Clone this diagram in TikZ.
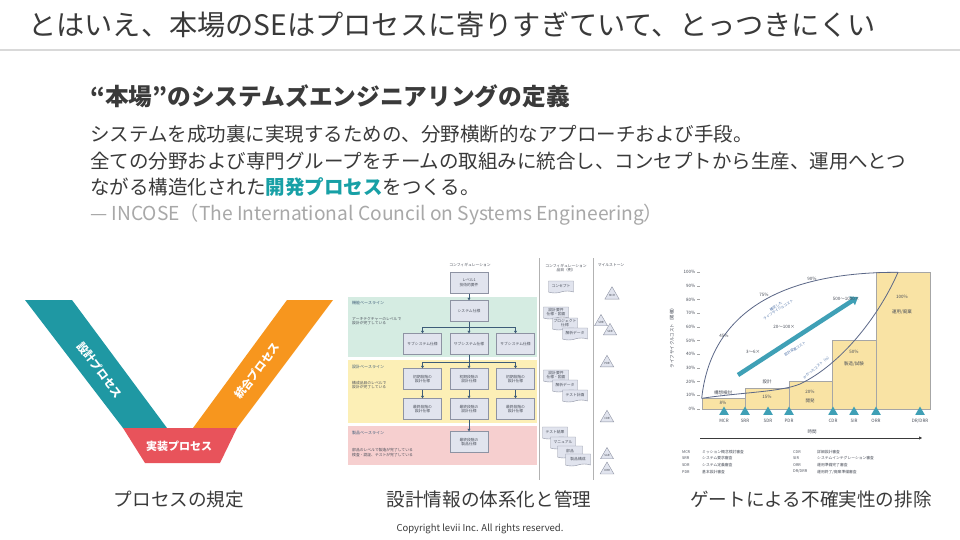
\documentclass[tikz,border=0pt]{standalone}
\usepackage{fontspec}
\setmainfont{Noto Sans CJK JP}
\usetikzlibrary{positioning,arrows.meta,shapes.geometric,shapes.symbols}
\definecolor{ink}{HTML}{3A3A3A}
\definecolor{inkgray}{HTML}{4A4F5A}
\definecolor{quote}{HTML}{A8A8A8}
\definecolor{rule}{HTML}{D9D9D9}
\definecolor{hilite}{HTML}{17A0A6}
\definecolor{vteal}{HTML}{1F98A3}
\definecolor{vorange}{HTML}{F7961E}
\definecolor{vred}{HTML}{E8535B}
\definecolor{bandgreen}{HTML}{D5ECE2}
\definecolor{bandyellow}{HTML}{FCEFB6}
\definecolor{bandpink}{HTML}{F6CFCF}
\definecolor{specfill}{HTML}{E1E4EE}
\definecolor{specline}{HTML}{8E93A3}
\definecolor{flowline}{HTML}{3D5C78}
\definecolor{barfill}{HTML}{F9E3A4}
\definecolor{gateteal}{HTML}{3FA0B6}
\definecolor{curveblue}{HTML}{5B6787}
\definecolor{noteblue}{HTML}{4E72A8}
\newcommand{\tinyjp}{\fontsize{3.8}{4.6}\selectfont}

\begin{document}
\begin{tikzpicture}[x=1pt,y=-1pt,
    every node/.style={inner sep=0pt},
    tinytext/.style={font=\tinyjp,text=inkgray},
    spec/.style={draw=specline,fill=specfill,line width=0.4pt,
      minimum width=38pt,minimum height=21pt,align=center,tinytext},
    doc/.style={tape,tape bend top=none,tape bend height=2pt,draw=specline,
      fill=specfill,line width=0.4pt,minimum width=25pt,minimum height=12pt,
      align=center,tinytext},
    milestone/.style={regular polygon,regular polygon sides=3,draw=specline,
      fill=specfill,line width=0.4pt,minimum size=15pt,
      font=\fontsize{2.8}{3}\selectfont,text=inkgray},
    flow/.style={draw=flowline,line width=0.6pt,
      -{Triangle[width=3pt,length=2.5pt]}},
    bandlabel/.style={anchor=west,font=\fontsize{4}{5}\selectfont,text=flowline},
    bandnote/.style={anchor=north west,align=left,tinytext},
    bar/.style={draw=gray!70,fill=barfill,line width=0.5pt},
    gate/.style={regular polygon,regular polygon sides=3,fill=gateteal,
      minimum size=11pt},
    chartlab/.style={font=\fontsize{4.5}{5.2}\selectfont,text=inkgray},
    note/.style={font=\fontsize{3.5}{4.2}\selectfont,text=noteblue,align=center},
    caption/.style={font=\fontsize{18.6}{20}\selectfont,text=ink,anchor=base},
    body/.style={anchor=base west,font=\fontsize{19.5}{22}\selectfont,text=ink}]
  \useasboundingbox (0,0) rectangle (960,540);
  \fill[white] (0,0) rectangle (960,540);

  % title
  \node[anchor=base west,font=\fontsize{28.2}{30}\selectfont,text=ink] (title) at (28,36)
    {とはいえ、本場のSEはプロセスに寄りすぎていて、とっつきにくい};
  \draw[rule,line width=2.5pt] (0,50) -- (960,50);

  % definition
  \node[anchor=base west,font=\fontsize{23.7}{25}\selectfont\bfseries,text=ink] (defhead) at (90,106)
    {“本場”のシステムズエンジニアリングの定義};
  \node[body] (defA) at (90,142) {システムを成功裏に実現するための、分野横断的なアプローチおよび手段。};
  \node[body] (defB) at (90,168) {全ての分野および専門グループをチームの取組みに統合し、コンセプトから生産、運用へとつ};
  \node[body] (defC) at (90,194) {ながる構造化された{\bfseries\color{hilite}開発プロセス}をつくる。};
  \node[body,text=quote,font=\fontsize{19.2}{21}\selectfont] (defsrc) at (90,220)
    {— INCOSE（The International Council on Systems Engineering）};

  % V model
  \fill[vteal] (25,300) -- (72,300) -- (167,428) -- (123,428) -- cycle;
  \fill[vorange] (287,300) -- (333,300) -- (237,428) -- (193,428) -- cycle;
  \fill[vred] (123,428) -- (237,428) -- (220,463) -- (145,463) -- cycle;
  \node[font=\fontsize{11}{12}\selectfont\bfseries,text=white,rotate=-53] (vdesign) at (100,370) {設計プロセス};
  \node[font=\fontsize{11}{12}\selectfont\bfseries,text=white,rotate=53] (vinteg) at (257,371) {統合プロセス};
  \node[font=\fontsize{11}{12}\selectfont\bfseries,text=white] (vimpl) at (179,446) {実装プロセス};

  % configuration diagram
  \fill[bandgreen] (348,297) rectangle (537,357);
  \fill[bandyellow] (348,360) rectangle (537,423);
  \fill[bandpink] (348,426) rectangle (537,465);
  \draw[gray!60,line width=0.7pt] (539,258) -- (539,480);
  \draw[gray!60,line width=0.7pt] (593,258) -- (593,480);
  \node[tinytext] (hdcfg) at (470,265) {コンフィギュレーション};
  \node[tinytext,align=center] (hditem) at (566,268) {コンフィギュレーション\\品目（例）};
  \node[tinytext] (hdmile) at (611,265) {マイルストーン};

  \node[bandlabel] (blfunc) at (352,303) {機能ベースライン};
  \node[bandnote] (bnfunc) at (352,317) {アーキテクチャーのレベルで\\設計が完了している};
  \node[bandlabel] (bldes) at (352,367) {設計ベースライン};
  \node[bandnote] (bndes) at (352,381) {構成品目のレベルで\\設計が完了している};
  \node[bandlabel] (blprod) at (352,433) {製品ベースライン};
  \node[bandnote] (bnprod) at (352,448) {部品のレベルで製造が完了している\\検査・認証、テストが完了している};

  \node[spec] (lvl) at (469,283) {レベル1\\技術的要件};
  \node[spec] (sys) at (469,311) {システム仕様};
  \node[spec] (subA) at (422.5,344) {サブシステム仕様};
  \node[spec] (subB) at (469,344) {サブシステム仕様};
  \node[spec] (subC) at (515.5,344) {サブシステム仕様};
  \node[spec] (iniA) at (422.5,379) {初期段階の\\設計仕様};
  \node[spec] (iniB) at (469,379) {初期段階の\\設計仕様};
  \node[spec] (iniC) at (515.5,379) {初期段階の\\設計仕様};
  \node[spec] (finA) at (422.5,409) {最終段階の\\設計仕様};
  \node[spec] (finB) at (469,409) {最終段階の\\設計仕様};
  \node[spec] (finC) at (515.5,409) {最終段階の\\設計仕様};
  \node[spec] (prod) at (469,442) {最終段階の\\製品仕様};

  \coordinate (forkA) at (469,327);
  \coordinate (forkB) at (469,362);
  \draw[flow] (lvl) -- (sys);
  \draw[draw=flowline,line width=0.6pt] (sys) -- (forkA);
  \draw[flow] (forkA) -| (subA);
  \draw[flow] (forkA) -- (subB);
  \draw[flow] (forkA) -| (subC);
  \draw[draw=flowline,line width=0.6pt] (subB) -- (forkB);
  \draw[flow] (forkB) -| (iniA);
  \draw[flow] (forkB) -- (iniB);
  \draw[flow] (forkB) -| (iniC);
  \foreach \c in {A,B,C}
    \draw[flow] (ini\c) -- (fin\c);
  \draw[flow] (finB) -- (prod);

  % configuration items
  \node[doc] (dConcept) at (561,286) {コンセプト};
  \node[doc] (dReqA) at (556,312) {設計要件\\仕様・図面};
  \node[doc] (dProj) at (565,323) {プロジェクト\\仕様};
  \node[doc] (dAnaA) at (575,333) {解析データ};
  \node[doc] (dReqB) at (556,375) {設計要件\\仕様・図面};
  \node[doc] (dAnaB) at (565,385) {解析データ};
  \node[doc] (dTest) at (575,395) {テスト計画};
  \node[doc] (dResult) at (555,432) {テスト結果};
  \node[doc] (dManual) at (563,442) {マニュアル};
  \node[doc] (dParts) at (570,451) {部品};
  \node[doc] (dConf) at (578,459) {製品構成};

  % milestones
  \node[milestone] (mMCR) at (612,295) {MCR};
  \node[milestone] (mSRR) at (601,322) {SRR};
  \node[milestone] (mSDR) at (610,331) {SDR};
  \node[milestone] (mPDR) at (607,363) {PDR};
  \node[milestone] (mCDR) at (607,418) {CDR};
  \node[milestone] (mSAR) at (607,455) {SAR};
  \node[milestone] (mORR) at (607,470) {ORR};

  % life-cycle cost chart
  \foreach \p in {0,10,...,100} {
    \node[anchor=east,font=\fontsize{4.5}{5}\selectfont,text=inkgray] (yl\p) at (695.5,{409-1.367*\p}) {\p\%};
    \draw[gray!70,line width=0.4pt] (697,{409-1.367*\p}) -- (700,{409-1.367*\p});
  }
  \node[rotate=90,font=\fontsize{4.5}{5}\selectfont,text=inkgray] (yaxis) at (672,337) {ライフサイクルコスト（累積）};
  \draw[bar] (702,409) rectangle (745,398.1);
  \draw[bar] (745,409) rectangle (789,388.5);
  \draw[bar] (789,409) rectangle (832,381.7);
  \draw[bar] (832,409) rectangle (876,340.6);
  \draw[bar] (876,409) rectangle (930,272.3);

  \node[chartlab] (pcA) at (723,403) {8\%};
  \node[chartlab] (phA) at (723,393) {構想検討};
  \node[chartlab] (pcB) at (767,397) {15\%};
  \node[chartlab] (phB) at (767,382) {設計};
  \node[chartlab] (pcC) at (810,392) {20\%};
  \node[chartlab] (phC) at (810,401) {開発};
  \node[chartlab] (pcD) at (854,352) {50\%};
  \node[chartlab] (phD) at (854,364) {製造/試験};
  \node[chartlab] (pcE) at (902,297) {100\%};
  \node[chartlab] (phE) at (902,312) {運用/廃棄};

  \draw[curveblue,line width=0.8pt] (701.7,398.3) .. controls (710,320) and (770,272) .. (898,272.3);
  \draw[curveblue,line width=0.8pt] (701.7,398.3) .. controls (745,392) and (780,392) .. (800,384)
    .. controls (840,365) and (878,318) .. (898,272.3);
  \draw[gateteal,line width=4.5pt,-{Triangle[width=10pt,length=7pt]}] (738,375) -- (858,297);

  \node[chartlab] (cum45) at (724,336) {45\%};
  \node[chartlab] (cum75) at (764,295) {75\%};
  \node[chartlab] (cum90) at (812,279) {90\%};
  \node[chartlab] (rat3) at (753,352) {3〜6×};
  \node[chartlab] (rat20) at (784,327) {20〜100×};
  \node[chartlab] (rat500) at (846,299) {500〜1000×};
  \node[note,rotate=33] (nLCC) at (777,308) {確定した\\ライフサイクルコスト};
  \node[note,rotate=33] (nChg) at (795,349) {設計変更コスト};
  \node[note,rotate=40] (nSpent) at (817,367) {かかったコスト（\%）};

  % gates
  \foreach \g/\x in {MCR/724,SRR/745,SDR/768,PDR/789,CDR/833,SIR/854,ORR/876,DRR/920} {
    \node[gate] (g\g) at (\x,412) {};
  }
  \foreach \g/\t in {MCR/MCR,SRR/SRR,SDR/SDR,PDR/PDR,CDR/CDR,SIR/SIR,ORR/ORR,DRR/{DR/DRR}}
    \node[chartlab,below=4pt of g\g] (gl\g) {\t};
  \coordinate (tStart) at (700,438);
  \coordinate (tEnd) at (922,438);
  \draw[ink,line width=0.6pt,-{Triangle[width=3pt,length=3pt]}] (tStart) -- (tEnd);
  \node[chartlab] (tLabel) at (812,432) {時間};

  % legend
  \foreach \ab/\txt [count=\i] in {MCR/ミッション概念検討審査,SRR/システム要求審査,SDR/システム定義審査,PDR/基本設計審査} {
    \node[anchor=west,tinytext] (lgL\i) at (682,{445+6.7*\i}) {\ab};
    \node[anchor=west,tinytext] (lgLt\i) at (702,{445+6.7*\i}) {\txt};
  }
  \foreach \ab/\txt [count=\i] in {CDR/詳細設計審査,SIR/システムインテグレーション審査,ORR/運用準備完了審査,{DR/DRR}/{運用終了/廃棄準備審査}} {
    \node[anchor=west,tinytext] (lgR\i) at (793,{445+6.7*\i}) {\ab};
    \node[anchor=west,tinytext] (lgRt\i) at (817,{445+6.7*\i}) {\txt};
  }

  % captions
  \node[caption] (capV) at (179,506) {プロセスの規定};
  \node[caption] (capCfg) at (489,506) {設計情報の体系化と管理};
  \node[caption] (capGate) at (811,506) {ゲートによる不確実性の排除};
  \node[anchor=base,font=\fontsize{9.5}{11}\selectfont,text=ink] (copy) at (480,531)
    {Copyright levii Inc. All rights reserved.};
\end{tikzpicture}
\end{document}
